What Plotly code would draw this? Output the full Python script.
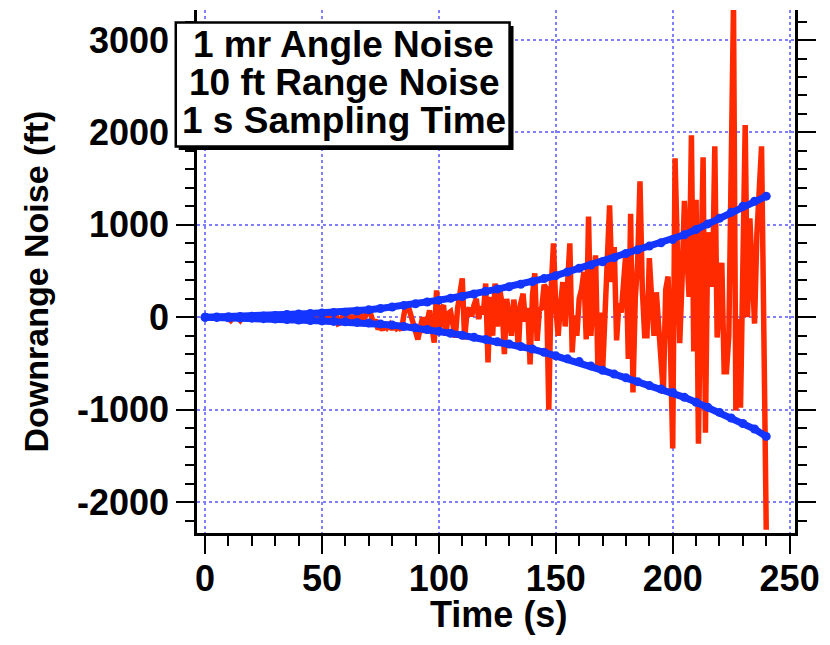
import plotly.graph_objects as go

# ---------------- data ----------------
time_red = list(range(0, 241))  # 1 s sampling
noise_red = [
    0, 2, -3, 4, -5, 3, -6, 5, -4, 6, -8,
    -35, -5, 8, -10, -35, 5, -8, 10, -12, 6,
    -9, 12, -15, 8, -10, 14, -12, 9, -16, 12,
    -14, 18, -10, 15, -20, 12, -18, 20, -15, 10,
    -22, 18, -12, 25, -20, 15, -45, 20, -25, 30,
    -28, 22, -30, 35, -25, 30, -70, -60, 30, -20,
    15, -35, 20, -30, 25, -40, 10, -20, 60, 95,
    20, -60, -30, -130, -90, -140, -60, -110, -80, -135,
    -70, -120, -100, -140, 20, 145, 110, 30, -60, -150,
    -240, -120, 0, -170, -60, 75, -110, -275, 290, -180,
    90, 130, -200, 40, 60, -130, -220, 100, 270, 420,
    -240, 60, 100, 10, 130, 200, -20, 120, 30, 365,
    -490, 220, -200, 365, -100, 300, 150, -400, 200, -50,
    -200, 190, 50, -345, 150, 255, -50, 100, -510, 230,
    475, -255, 80, 100, 350, 310, -1000, 300, 800, 100,
    -200, 130, 380, -100, 500, 800, -380, 20, -200, 200,
    300, 490, -240, 1090, -200, 240, 670, -560, 50, -600,
    60, 500, 1210, 380, 760, -250, 150, 50, 400, 710,
    -450, 1120, -815, 210, 600, 1470, 300, -200, -200, 640,
    200, -200, 270, -80, -300, -830, 300, 440, -300, -1420,
    1720, 600, -280, 400, 1260, 700, 220, 1970, -370, 1270,
    -1370, 400, 1730, -1250, 920, 600, 330, 1850, -220, 200,
    590, -590, -590, -200, 1600, 3400, -1010, -20, -980, 600,
    2080, 0, 1070, 500, -70, 900, 1500, 1850, -200, -2300,
]

time_blue = list(range(0, 241, 5))
upper_blue = [
    0, 2, 5, 7, 10, 14, 20, 30, 35, 40,
    45, 50, 55, 68, 80, 95, 110, 128, 145, 165,
    185, 205, 225, 252, 280, 305, 330, 357, 385, 418,
    450, 490, 530, 565, 600, 645, 690, 730, 770, 805,
    840, 893, 950, 1010, 1070, 1135, 1200, 1255, 1310,
]
lower_blue = [
    0, -2, -5, -7, -10, -15, -20, -25, -30, -35,
    -40, -45, -50, -56, -62, -72, -85, -100, -115, -133,
    -152, -173, -195, -217, -240, -265, -290, -317, -345, -380,
    -418, -450, -480, -527, -575, -615, -655, -697, -740, -777,
    -815, -867, -920, -975, -1030, -1090, -1150, -1210, -1290,
]

x_ticks = [0, 50, 100, 150, 200, 250]
y_ticks = [-2000, -1000, 0, 1000, 2000, 3000]
box_lines = ["1 mr Angle Noise", "10 ft Range Noise", "1 s Sampling Time"]
x_title = "Time (s)"
y_title = "Downrange Noise (ft)"

# ---------------- style ----------------
W, H = 830, 645
L, R, T, B = 196.5, 802.0, 10.0, 533.0  # plot area in pixels
FONT = "Liberation Sans, Arial, Helvetica, sans-serif"
RED = "#ff2a00"
BLUE = "#1435ff"
GRID = "#7f7fff"


def px(xp):
    return (xp - L) / (R - L)


def py(yp):
    return (B - yp) / (B - T)


fig = go.Figure()
fig.add_trace(go.Scatter(x=time_red, y=noise_red, mode="lines",
                         line=dict(color=RED, width=5.5), showlegend=False))
fig.add_trace(go.Scatter(x=time_blue, y=upper_blue, mode="lines+markers",
                         line=dict(color=BLUE, width=7),
                         marker=dict(color=BLUE, size=9), showlegend=False))
fig.add_trace(go.Scatter(x=time_blue, y=lower_blue, mode="lines+markers",
                         line=dict(color=BLUE, width=7),
                         marker=dict(color=BLUE, size=9), showlegend=False))

tickfont = dict(family=FONT, size=36, color="black", weight="bold")

fig.update_layout(
    width=W, height=H,
    margin=dict(l=L, r=W - R, t=T, b=H - B, pad=0),
    paper_bgcolor="white", plot_bgcolor="white",
    xaxis=dict(
        range=[-3.46, 252.3], tickvals=x_ticks, ticktext=[str(v) for v in x_ticks],
        showline=True, linecolor="black", linewidth=2.5, mirror=False,
        ticks="outside", ticklen=18, tickwidth=2, tickcolor="black",
        ticklabelstandoff=-6,
        minor=dict(dtick=10, tick0=0, ticklen=10, tickwidth=2, tickcolor="black",
                   ticks="outside", showgrid=False),
        showgrid=True, gridcolor=GRID, gridwidth=2, griddash="dot",
        zeroline=False, tickfont=tickfont,
    ),
    yaxis=dict(
        range=[-2335, 3325], tickvals=y_ticks, ticktext=[str(v) for v in y_ticks],
        showline=True, linecolor="black", linewidth=2.5, mirror="ticks",
        ticks="outside", ticklen=18, tickwidth=2, tickcolor="black",
        minor=dict(dtick=200, tick0=0, ticklen=9, tickwidth=2, tickcolor="black",
                   ticks="outside", showgrid=False),
        showgrid=True, gridcolor=GRID, gridwidth=2, griddash="dot",
        zeroline=False, tickfont=tickfont,
    ),
)

# legend-like text box with shadow
fig.add_shape(type="rect", xref="paper", yref="paper", layer="above",
              x0=px(178), x1=px(517), y0=py(26), y1=py(150),
              fillcolor="black", line=dict(width=0))
fig.add_shape(type="rect", xref="paper", yref="paper", layer="above",
              x0=px(175), x1=px(513), y0=py(22.5), y1=py(146.5),
              fillcolor="white", line=dict(color="black", width=2.5))

line_centers = [45, 83, 120]
for txt, yc in zip(box_lines, line_centers):
    fig.add_annotation(text=txt, xref="paper", yref="paper", x=px(345), y=py(yc),
                       xanchor="center", yanchor="middle", showarrow=False,
                       font=dict(family=FONT, size=37, color="black", weight="bold"))

fig.add_annotation(text=x_title, xref="paper", yref="paper", x=px(502), y=py(614),
                   xanchor="center", yanchor="middle", showarrow=False,
                   font=dict(family=FONT, size=36, color="black", weight="bold"))
fig.add_annotation(text=y_title, xref="paper", yref="paper", x=px(33), y=py(282),
                   xanchor="center", yanchor="middle", showarrow=False, textangle=-90,
                   font=dict(family=FONT, size=34, color="black", weight="bold"))

fig.write_html("out.html", config={"displayModeBar": False},
               post_script="document.body.style.margin='0';")
